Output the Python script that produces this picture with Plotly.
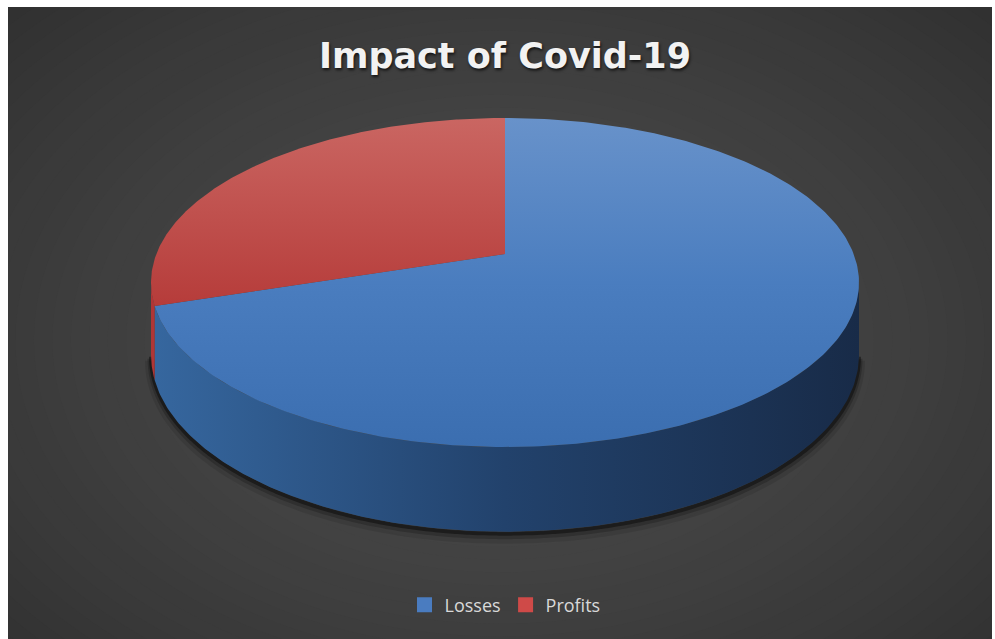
import numpy as np
import plotly.graph_objects as go

# ---- data ----
labels = ["Losses", "Profits"]
values = [70, 30]

# ---- styles ----
top_colors = {
    "Losses": [[0, "#6892ca"], [0.5, "#4a7dbf"], [1, "#3b6eb0"]],
    "Profits": [[0, "#ca6662"], [1, "#b63c3a"]],
}
side_colors = {
    "Losses": [[0, "#36679f"], [0.5, "#22426c"], [1, "#182b48"]],
    "Profits": [[0, "#b03636"], [1, "#a02f2f"]],
}
legend_colors = {"Losses": "#4a7cc0", "Profits": "#cf4a48"}

# ---- geometry of the perspective pie (screen pixels) ----
W, H = 995, 639
cx = 505.0
y_far, y_mid, y_near = 118.0, 254.0, 447.0
half_w = 354.0
depth = 70.0

# projective mapping y(d) = (A d + B)/(C d + 1), d = 1 far edge, -1 near edge
B = y_mid
C = ((y_far - B) - (B - y_near)) / (y_near - y_far)
A = y_far * C + y_far - B
k = half_w * np.sqrt(1 - C ** 2)


def proj(theta, h=0.0):
    d = np.cos(theta)
    s = np.sin(theta)
    w = 1 + C * d
    return cx + k * s / w, (A * d + B) / w + h / w


fig = go.Figure()

# background radial gradient (concentric ellipses)
n_bg = 40
for i in range(n_bg):
    t = i / (n_bg - 1)
    rx = 720 * (1 - t) + 60
    ry = 500 * (1 - t) + 40
    g = int(round(40 + (76 - 40) * t ** 0.7))
    fig.add_shape(type="circle", xref="x", yref="y",
                  x0=500 - rx, x1=500 + rx, y0=340 - ry, y1=340 + ry,
                  fillcolor=f"rgb({g},{g},{g})", line_width=0, layer="below")

total = float(sum(values))
starts = np.cumsum([0] + values[:-1]) / total * 2 * np.pi
ends = np.cumsum(values) / total * 2 * np.pi

# silhouette angles (visible side range)
th_r = np.arccos(-C)
th_l = 2 * np.pi - th_r

# shadow under the pie side
tt = np.linspace(th_r, th_l, 200)
for off, wdt, op in [(6, 12, 0.10), (4, 7, 0.2), (2, 4, 0.4)]:
    sx, sy = proj(tt, depth)
    fig.add_trace(go.Scatter(x=sx, y=sy + off, mode="lines",
                             line=dict(color=f"rgba(0,0,0,{op})", width=wdt, shape="spline"),
                             hoverinfo="skip", showlegend=False))

# side walls
for lab, a0, a1 in zip(labels, starts, ends):
    lo, hi = max(a0, th_r), min(a1, th_l)
    if hi <= lo:
        continue
    t = np.linspace(lo, hi, 200)
    xt, yt = proj(t)
    xb, yb = proj(t[::-1], depth)
    xs = np.concatenate([xt, xb, xt[:1]])
    ys = np.concatenate([yt, yb, yt[:1]])
    fig.add_trace(go.Scatter(
        x=xs, y=ys, mode="lines", fill="toself", line=dict(width=0),
        fillcolor=side_colors[lab][0][1],
        fillgradient=dict(type="horizontal", colorscale=side_colors[lab],
                          start=cx - half_w, stop=cx + half_w),
        hoverinfo="skip", showlegend=False))

# top faces
for lab, a0, a1 in zip(labels, starts, ends):
    t = np.linspace(a0, a1, 300)
    xa, ya = proj(t)
    xs = np.concatenate([[cx], xa, [cx]])
    ys = np.concatenate([[B], ya, [B]])
    fig.add_trace(go.Scatter(
        x=xs, y=ys, mode="lines", fill="toself", line=dict(width=0),
        fillcolor=legend_colors[lab],
        fillgradient=dict(type="vertical", colorscale=top_colors[lab],
                          start=y_far, stop=float(ya.max()) if lab == "Profits" else y_near),
        name=lab, hoverinfo="skip", showlegend=False))

# legend entries
for lab in labels:
    fig.add_trace(go.Scatter(x=[None], y=[None], mode="markers",
                             marker=dict(symbol="square", size=15, color=legend_colors[lab]),
                             name=lab, showlegend=True))

ml, mr, mt, mb = 8, 3, 7, 0
fig.update_layout(
    width=W, height=H,
    margin=dict(l=ml, r=mr, t=mt, b=mb, pad=0),
    paper_bgcolor="white",
    plot_bgcolor="#2a2a2a",
    xaxis=dict(range=[ml, W - mr], visible=False, fixedrange=True),
    yaxis=dict(range=[H - mb, mt], visible=False, fixedrange=True),
    title=dict(text="<b>Impact of Covid-19</b>", x=505 / W, y=1 - 56 / H,
               xanchor="center", yanchor="middle",
               font=dict(family="DejaVu Sans", size=35, color="#f2f2f2",
                         shadow="1px 2px 3px rgba(0,0,0,0.7)")),
    legend=dict(orientation="h", x=(505 - ml) / (W - ml - mr), xanchor="center",
                y=(H - 605) / (H - mt - mb), yanchor="middle",
                font=dict(family="Open Sans", size=18, color="#d9d9d9"),
                bgcolor="rgba(0,0,0,0)", itemwidth=30, tracegroupgap=0),
    showlegend=True,
)

fig.write_html("out.html", config={"displayModeBar": False},
               post_script="document.body.style.margin='0';document.body.style.overflow='hidden';")
